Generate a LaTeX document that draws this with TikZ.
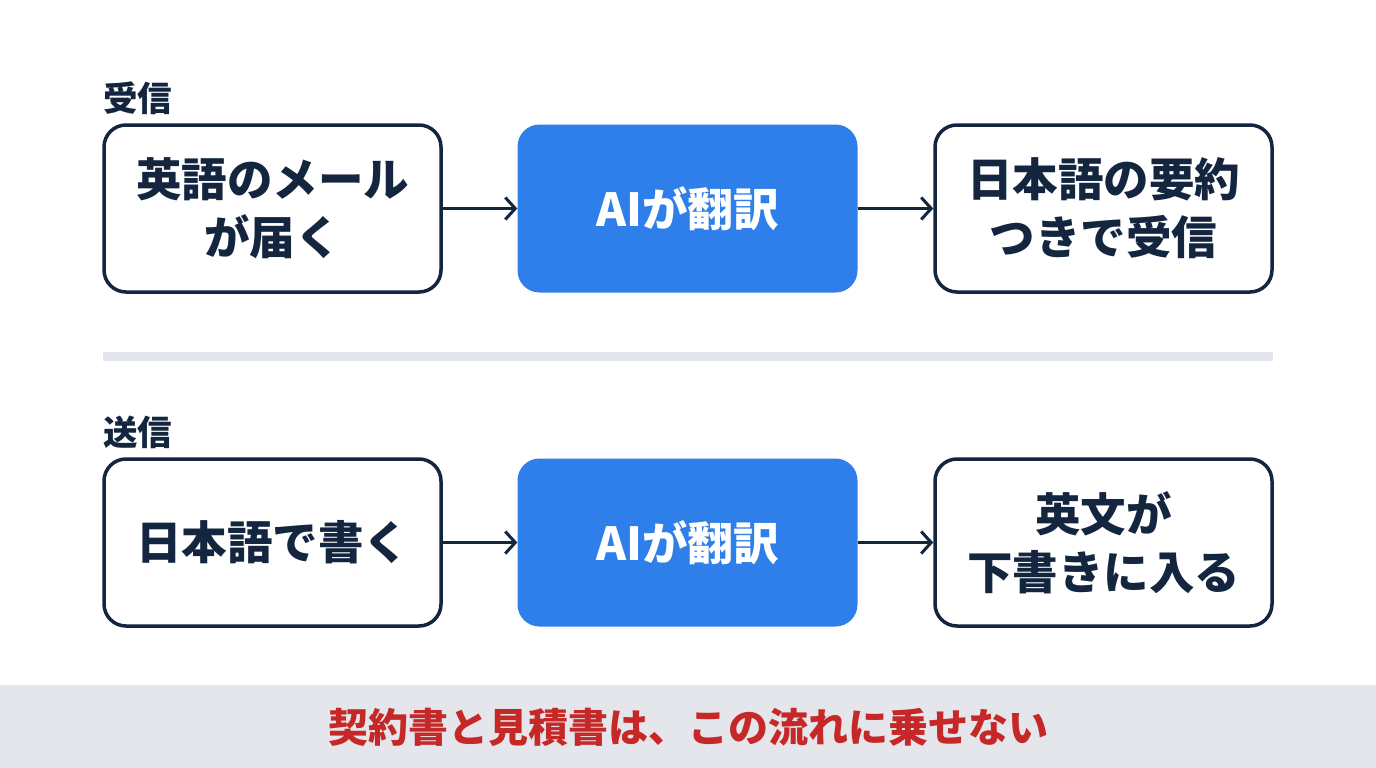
\documentclass[tikz,border=0pt]{standalone}
\usepackage{fontspec}
\setmainfont{Noto Sans CJK JP}
\usetikzlibrary{arrows.meta}
\definecolor{navy}{HTML}{13253F}
\definecolor{aiblue}{HTML}{2E7FEA}
\definecolor{sepgray}{HTML}{E3E6EC}
\definecolor{bandgray}{HTML}{E4E6EB}
\definecolor{warnred}{HTML}{C62828}
\tikzset{
  flowbox/.style={draw=navy, line width=3.5pt, rounded corners=22pt, fill=white,
    minimum width=337pt, minimum height=167pt, align=center, text=navy,
    font=\fontsize{45.5}{58}\selectfont\bfseries},
  aibox/.style={fill=aiblue, rounded corners=22pt,
    minimum width=340pt, minimum height=168pt, align=center, text=white,
    font=\fontsize{45.5}{54}\selectfont\bfseries},
  flowarrow/.style={draw=navy, line width=3pt, -{Straight Barb[length=10pt,width=22pt,line width=3pt]}},
  seclabel/.style={text=navy, font=\fontsize{34.5}{40}\selectfont\bfseries, anchor=west, inner sep=0pt}
}
\begin{document}
\begin{tikzpicture}[x=1pt,y=-1pt]
\useasboundingbox (0,0) rectangle (1376,768);
\fill[white] (0,0) rectangle (1376,768);
% section labels
\node[seclabel] (lblrecv) at (103,98) {受信};
\node[seclabel] (lblsend) at (103,432) {送信};
% row 1
\node[flowbox] (r1a) at (272.5,208.5) {英語のメール\\が届く};
\node[aibox] (r1b) at (687.5,208.5) {AIが翻訳};
\node[flowbox] (r1c) at (1103.5,208.5) {日本語の要約\\つきで受信};
\draw[flowarrow] (r1a) -- (r1b);
\draw[flowarrow] (r1b) -- (r1c);
% separator
\fill[sepgray] (103,352) rectangle (1273,361);
% row 2
\node[flowbox] (r2a) at (272.5,542.5) {日本語で書く};
\node[aibox] (r2b) at (687.5,542.5) {AIが翻訳};
\node[flowbox] (r2c) at (1103.5,542.5) {英文が\\下書きに入る};
\draw[flowarrow] (r2a) -- (r2b);
\draw[flowarrow] (r2b) -- (r2c);
% bottom band
\fill[bandgray] (0,685) rectangle (1376,768);
\node[text=warnred, font=\fontsize{40}{46}\selectfont\bfseries] (warn) at (688,727) {契約書と見積書は、この流れに乗せない};
\end{tikzpicture}
\end{document}
